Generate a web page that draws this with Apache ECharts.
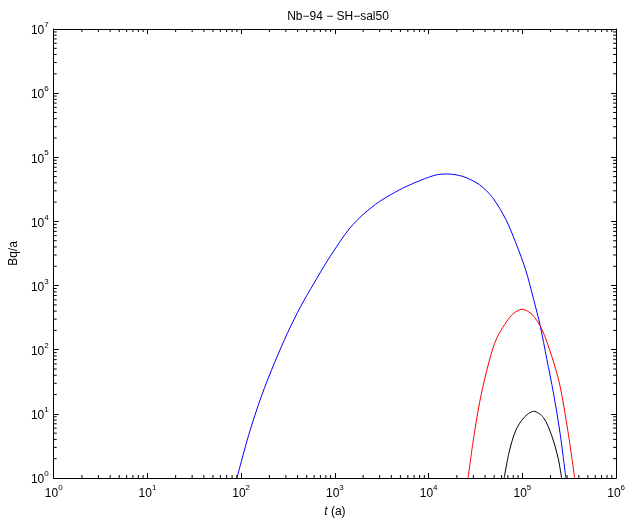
<!DOCTYPE html>
<html>
<head>
<meta charset="utf-8">
<script src="https://cdn.jsdelivr.net/npm/echarts@6/dist/echarts.min.js"></script>
<style>html,body{margin:0;padding:0;background:#fff}#c{width:628px;height:523px}</style>
</head>
<body>
<div id="c"></div>
<script>
// ---- data ----
const chartTitle = 'Nb\u221294 \u2212 SH\u2212sal50';
const xTickExps = [0, 1, 2, 3, 4, 5, 6];
const yTickExps = [0, 1, 2, 3, 4, 5, 6, 7];

const blueT = [90.2, 119.7, 164.8, 227.5, 314.1, 433.5, 599.8, 826.0, 1140, 1452, 2004, 2992, 4853, 6761, 9247, 11324, 13183, 15631, 23335, 34995, 48195, 66681, 84918, 108143, 132130, 155239, 182390, 214289, 251768, 291072];
const blueV = [1, 4.57, 19.05, 63.1, 186.2, 478.6, 1096, 2399, 4898, 7943, 12882, 20417, 30903, 38900, 46774, 51880, 54325, 54954, 50119, 37154, 23442, 10715, 4677, 1778, 602.6, 234.4, 70.8, 21.4, 5.13, 1];

const redT = [26363, 29717, 34995, 41115, 48195, 53703, 61376, 78163, 99540, 126765, 161436, 205589, 251768, 307610, 361410];
const redV = [1, 3.59, 15.14, 43.65, 102.3, 155, 218.8, 354.8, 426.6, 354.8, 208.9, 79.4, 27.5, 5.13, 1];

const blackT = [63973, 72111, 84918, 103753, 132130, 168267, 205589, 241546, 261818];
const blackV = [1, 2.51, 5.50, 8.71, 10.96, 8.71, 4.57, 2.0, 1];

// ---- chart ----
function zip(a, b) { return a.map((v, i) => [v, b[i]]); }
const FONT = 'Liberation Sans, Arial, Helvetica, sans-serif';

const supRich = {
  b: { fontSize: 12, fontFamily: FONT, color: '#000', verticalAlign: 'bottom', lineHeight: 16 },
  s: { fontSize: 8, fontFamily: FONT, color: '#000', verticalAlign: 'top', lineHeight: 16 }
};
function powFmt(v) {
  const e = Math.round(Math.log10(v));
  return '{b|10}{s|' + e + '}';
}

const chart = echarts.init(document.getElementById('c'), null, { renderer: 'canvas' });

const minorX = [], minorY = [];
for (let e = xTickExps[0]; e < xTickExps[xTickExps.length - 1]; e++) for (let m = 2; m <= 9; m++) minorX.push(m * Math.pow(10, e));
for (let e = yTickExps[0]; e < yTickExps[yTickExps.length - 1]; e++) for (let m = 2; m <= 9; m++) minorY.push(m * Math.pow(10, e));
const xMin = Math.pow(10, xTickExps[0]), xMax = Math.pow(10, xTickExps[xTickExps.length - 1]);
const yMin = Math.pow(10, yTickExps[0]), yMax = Math.pow(10, yTickExps[yTickExps.length - 1]);

function lineEl(x1, y1, x2, y2) {
  return { type: 'line', shape: { x1, y1, x2, y2 }, style: { stroke: '#000', lineWidth: 1 } };
}

const baseX = {
  type: 'log', logBase: 10, min: xMin, max: xMax,
  axisLine: { show: true, lineStyle: { color: '#000', width: 1 } },
  axisTick: { show: true, inside: true, length: 5, lineStyle: { color: '#000' } },
  splitLine: { show: false }
};
const baseY = {
  type: 'log', logBase: 10, min: yMin, max: yMax,
  axisLine: { show: true, lineStyle: { color: '#000', width: 1 } },
  axisTick: { show: true, inside: true, length: 5, lineStyle: { color: '#000' } },
  splitLine: { show: false }
};

chart.setOption({
  animation: false,
  backgroundColor: '#fff',
  title: {
    text: chartTitle, left: 333, top: 6, textAlign: 'center',
    textStyle: { fontSize: 12, fontWeight: 'normal', fontFamily: FONT, color: '#000' }
  },
  grid: { left: 47, right: 9, top: 29, bottom: 44 },
  xAxis: [
    Object.assign({}, baseX, {
      position: 'bottom',
      axisLabel: { show: true, margin: 6, formatter: powFmt, rich: supRich },
      name: '{i|t} (a)', nameLocation: 'middle', nameGap: 28,
      nameTextStyle: { fontSize: 12, fontFamily: FONT, color: '#000',
        rich: { i: { fontStyle: 'italic', fontSize: 12, fontFamily: FONT, color: '#000' } } }
    }),
    Object.assign({}, baseX, { position: 'top', axisLabel: { show: false } })
  ],
  yAxis: [
    Object.assign({}, baseY, {
      position: 'left',
      axisLabel: { show: true, margin: 5, formatter: powFmt, rich: supRich },
      name: 'Bq/a', nameLocation: 'middle', nameGap: 31,
      nameTextStyle: { fontSize: 12, fontFamily: FONT, color: '#000' }
    }),
    Object.assign({}, baseY, { position: 'right', axisLabel: { show: false } })
  ],
  series: [
    { type: 'line', data: zip(blueT, blueV), smooth: 0.3, showSymbol: false, symbol: 'none',
      lineStyle: { color: '#0000ff', width: 1 }, itemStyle: { color: '#0000ff' }, z: 3 },
    { type: 'line', data: zip(redT, redV), smooth: 0.3, showSymbol: false, symbol: 'none',
      lineStyle: { color: '#ff0000', width: 1 }, itemStyle: { color: '#ff0000' }, z: 3 },
    { type: 'line', data: zip(blackT, blackV), smooth: 0.3, showSymbol: false, symbol: 'none',
      lineStyle: { color: '#000000', width: 1 }, itemStyle: { color: '#000' }, z: 3 },
    {
      type: 'custom', data: [[xMin, yMin]], silent: true, z: 4,
      renderItem: function (params, api) {
        const children = [];
        const L = 3;
        minorX.forEach(function (v) {
          const pb = api.coord([v, yMin]);
          const pt = api.coord([v, yMax]);
          children.push(lineEl(pb[0], pb[1], pb[0], pb[1] - L));
          children.push(lineEl(pt[0], pt[1], pt[0], pt[1] + L));
        });
        minorY.forEach(function (v) {
          const pl = api.coord([xMin, v]);
          const pr = api.coord([xMax, v]);
          children.push(lineEl(pl[0], pl[1], pl[0] + L, pl[1]));
          children.push(lineEl(pr[0], pr[1], pr[0] - L, pr[1]));
        });
        return { type: 'group', children: children };
      }
    }
  ]
});
</script>
</body>
</html>
